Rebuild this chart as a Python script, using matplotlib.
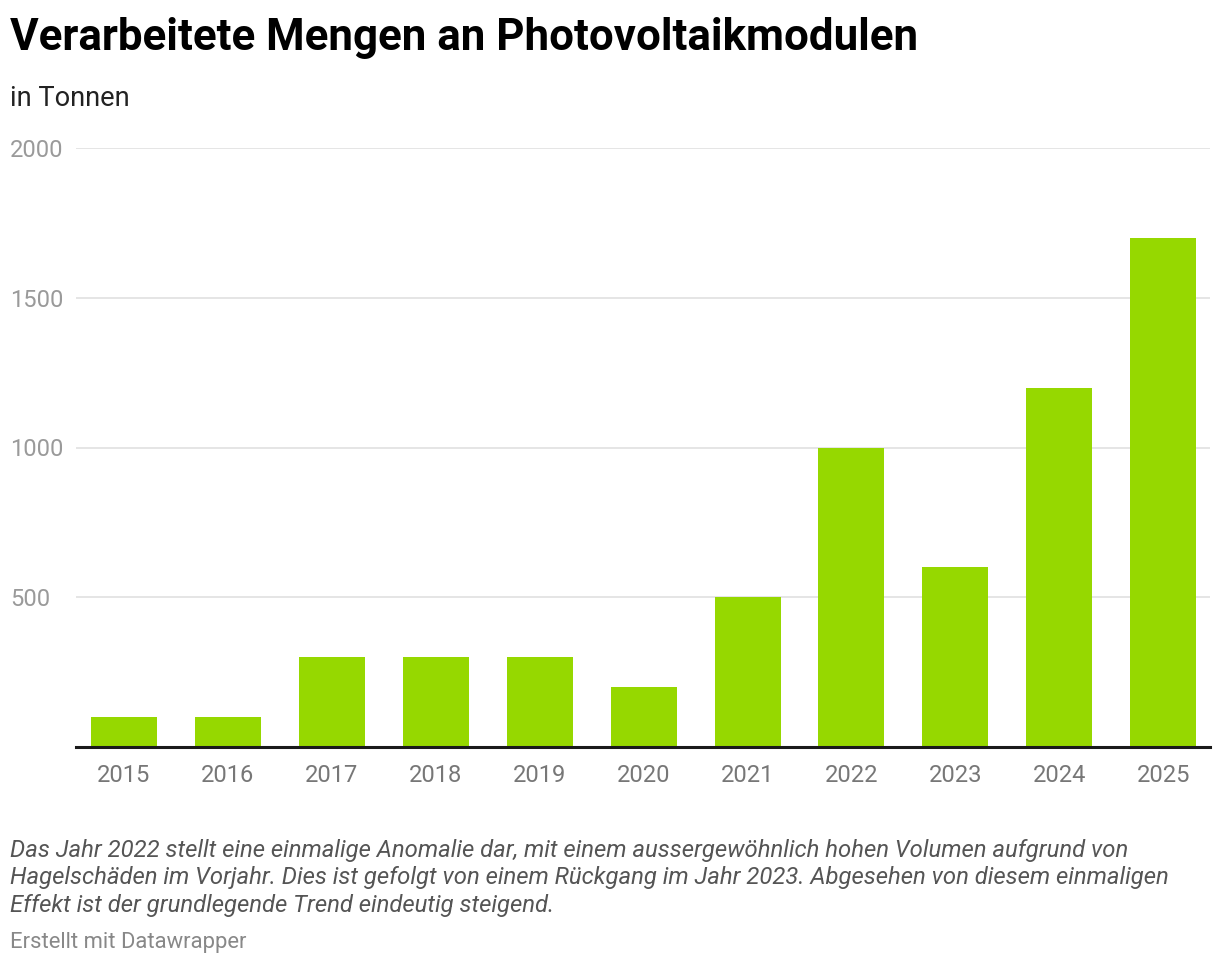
import matplotlib
matplotlib.use('Agg')
import matplotlib.pyplot as plt
import matplotlib.transforms as mtransforms

# Daten (in Tonnen)
jahre = ['2015', '2016', '2017', '2018', '2019', '2020', '2021', '2022', '2023', '2024', '2025']
mengen = [100, 100, 300, 300, 300, 200, 500, 1000, 600, 1200, 1700]
y_ticks = [500, 1000, 1500, 2000]

titel = 'Verarbeitete Mengen an Photovoltaikmodulen'
untertitel = 'in Tonnen'
notiz = ('Das Jahr 2022 stellt eine einmalige Anomalie dar, mit einem aussergewöhnlich hohen Volumen aufgrund von\n'
         'Hagelschäden im Vorjahr. Dies ist gefolgt von einem Rückgang im Jahr 2023. Abgesehen von diesem einmaligen\n'
         'Effekt ist der grundlegende Trend eindeutig steigend.')
quelle = 'Erstellt mit Datawrapper'

plt.rcParams['font.family'] = ['Roboto', 'DejaVu Sans']

W, H = 1220, 964
fig = plt.figure(figsize=(W / 100, H / 100), dpi=100)

def fx(px):
    return px / W

def fy(px):
    return 1 - px / H

# Achse: links 76px, rechts 1210px, oben 148px (2000), unten 747px (0)
ax = fig.add_axes([fx(76), fy(747), fx(1210) - fx(76), fy(148) - fy(747)])

x = list(range(len(jahre)))
ax.bar(x, mengen, width=0.635, color='#96d800', zorder=2)
ax.set_xlim(-0.462, 10.45)
ax.set_ylim(0, 2000)

for v in y_ticks:
    ax.axhline(v, color='#e3e3e3', lw=1.3, zorder=1)
ax.axhline(0, color='#1a1a1a', lw=2.2, zorder=3, clip_on=False)

for s in ax.spines.values():
    s.set_visible(False)
ax.set_yticks([])
ax.set_xticks(x)
ax.set_xticklabels(jahre, fontsize=17.1, color='#777777')
ax.tick_params(axis='x', length=0, pad=12.5)

# y-Beschriftungen linksbündig am Bildrand
trans = mtransforms.blended_transform_factory(fig.transFigure, ax.transData)
for v in y_ticks:
    ax.text(fx(10), v, str(v), transform=trans, ha='left', va='center_baseline',
            fontsize=17.1, color='#9a9a9a')

fig.text(fx(10), fy(50), titel, fontsize=31.6, fontweight='bold', color='#000000',
         ha='left', va='baseline')
fig.text(fx(10), fy(106), untertitel, fontsize=19.6, color='#222222',
         ha='left', va='baseline')
# bei mehrzeiligem Text gilt die Grundlinie der letzten Zeile
fig.text(fx(10), fy(912), notiz, fontsize=17.2, style='italic', color='#555555',
         ha='left', va='baseline', linespacing=1.26)
fig.text(fx(10), fy(948), quelle, fontsize=15.8, color='#888888',
         ha='left', va='baseline')

fig.savefig('out.png', dpi=100, facecolor='white')
